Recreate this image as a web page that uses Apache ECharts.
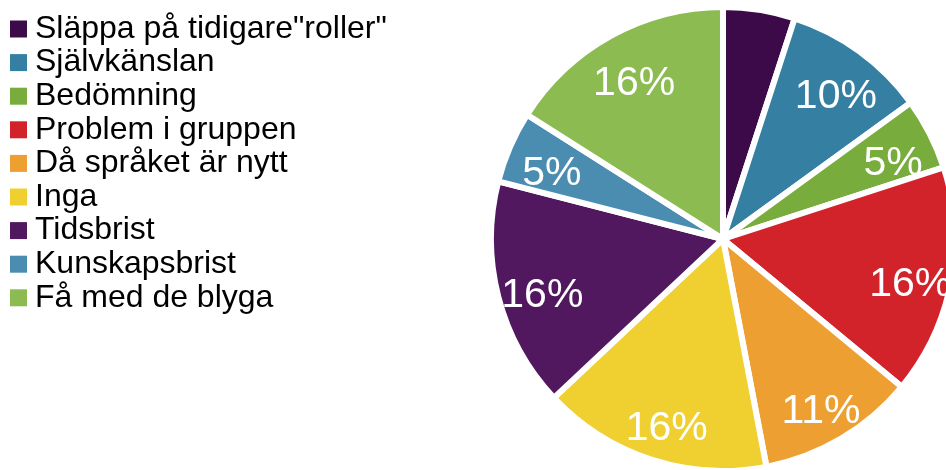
<!DOCTYPE html>
<html>
<head>
<meta charset="utf-8">
<script src="https://cdn.jsdelivr.net/npm/echarts@6/dist/echarts.min.js"></script>
<style>
  html, body { margin: 0; padding: 0; background: #ffffff; }
  #chart { width: 946px; height: 470px; }
</style>
</head>
<body>
<div id="chart"></div>
<script>
// Categories and their shares (percent)
const categories = [
  'Släppa på tidigare"roller"',
  'Självkänslan',
  'Bedömning',
  'Problem i gruppen',
  'Då språket är nytt',
  'Inga',
  'Tidsbrist',
  'Kunskapsbrist',
  'Få med de blyga'
];
const shares = [5, 10, 5, 16, 11, 16, 16, 5, 16];
const colors = ['#3D0A49', '#357FA3', '#78AC3C', '#D2232B', '#EDA031', '#F0D031', '#52185F', '#4A8DB1', '#8BBB51'];
// Slices whose percentage is printed
const showLabel = [false, true, true, true, true, true, true, true, true];

const CENTER = [723, 239];
const R = 232;

const chart = echarts.init(document.getElementById('chart'), null, { renderer: 'canvas' });

const sliceData = categories.map((name, i) => ({
  name,
  value: shares[i],
  itemStyle: { color: colors[i] }
}));

// Transparent ring that only carries the percentage labels, placed in the outer part of each slice
const labelData = categories.map((name, i) => ({
  name,
  value: shares[i],
  label: { show: showLabel[i] }
}));

chart.setOption({
  animation: false,
  legend: {
    orient: 'vertical',
    left: 10,
    top: 13,
    padding: 0,
    itemWidth: 17,
    itemHeight: 17,
    itemGap: 1.6,
    icon: 'rect',
    selectedMode: false,
    data: categories,
    itemStyle: { borderWidth: 0 },
    textStyle: {
      fontFamily: 'Liberation Sans, Arial, sans-serif',
      fontSize: 32,
      color: '#000000',
      padding: [0, 0, 0, 3]
    }
  },
  series: [
    {
      type: 'pie',
      center: CENTER,
      radius: [0, R],
      startAngle: 90,
      clockwise: true,
      silent: true,
      label: { show: false },
      labelLine: { show: false },
      itemStyle: { borderColor: '#ffffff', borderWidth: 6 },
      emphasis: { disabled: true },
      data: sliceData
    },
    {
      type: 'pie',
      center: CENTER,
      radius: [R * 0.6, R],
      startAngle: 90,
      clockwise: true,
      silent: true,
      avoidLabelOverlap: false,
      itemStyle: { color: 'rgba(0,0,0,0)', borderWidth: 0 },
      label: {
        show: true,
        position: 'inside',
        offset: [2, 10],
        formatter: (p) => p.value + '%',
        color: '#ffffff',
        fontFamily: 'Liberation Sans, Arial, sans-serif',
        fontSize: 41
      },
      labelLine: { show: false },
      emphasis: { disabled: true },
      data: labelData
    }
  ]
});
</script>
</body>
</html>
